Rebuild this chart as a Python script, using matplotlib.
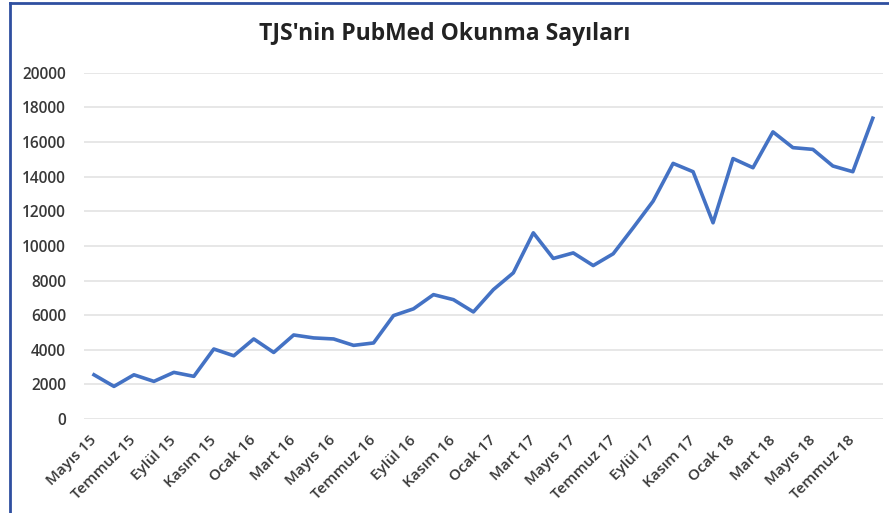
import matplotlib
matplotlib.use('Agg')
import matplotlib.pyplot as plt
from matplotlib.transforms import ScaledTranslation

# Monthly PubMed reads, May 2015 - Aug 2018
months = ["Mayıs 15", "Haziran 15", "Temmuz 15", "Ağustos 15", "Eylül 15", "Ekim 15",
          "Kasım 15", "Aralık 15", "Ocak 16", "Şubat 16", "Mart 16", "Nisan 16",
          "Mayıs 16", "Haziran 16", "Temmuz 16", "Ağustos 16", "Eylül 16", "Ekim 16",
          "Kasım 16", "Aralık 16", "Ocak 17", "Şubat 17", "Mart 17", "Nisan 17",
          "Mayıs 17", "Haziran 17", "Temmuz 17", "Ağustos 17", "Eylül 17", "Ekim 17",
          "Kasım 17", "Aralık 17", "Ocak 18", "Şubat 18", "Mart 18", "Nisan 18",
          "Mayıs 18", "Haziran 18", "Temmuz 18", "Ağustos 18"]
reads = [2560, 1890, 2560, 2180, 2700, 2470, 4050, 3660, 4630, 3850,
         4860, 4690, 4630, 4260, 4400, 5980, 6370, 7190, 6900, 6190,
         7480, 8450, 10760, 9280, 9600, 8870, 9550, 11050, 12590, 14770,
         14290, 11340, 15050, 14520, 16590, 15680, 15580, 14620, 14290, 17380]
yticks = [0, 2000, 4000, 6000, 8000, 10000, 12000, 14000, 16000, 18000, 20000]

FONT = ['Open Sans', 'DejaVu Sans']
TXT = '#383838'

fig = plt.figure(figsize=(8.89, 5.13), dpi=100)
ax = fig.add_axes([0.0945, 0.183, 0.8985, 0.675])

x = list(range(len(reads)))
ax.plot(x, reads, color='#4472C4', linewidth=2.6, solid_joinstyle='round')

ax.set_xlim(-0.5, len(reads) - 0.5)
ax.set_ylim(0, 20000)
ax.set_yticks(yticks)
ax.set_yticklabels([str(v) for v in yticks], fontsize=11.2, color=TXT,
                   family=FONT, fontweight='semibold')
ax.set_xticks(x[::2])
ax.set_xticklabels(months[::2], rotation=45, ha='right', rotation_mode='anchor',
                   fontsize=11, color=TXT, family=FONT, fontweight='semibold')
ax.tick_params(axis='y', length=0, pad=13)
ax.tick_params(axis='x', length=0, pad=10)
# nudge rotated labels a little to the left, like the original
shift = ScaledTranslation(-0.05, 0, fig.dpi_scale_trans)
for lbl in ax.get_xticklabels():
    lbl.set_transform(lbl.get_transform() + shift)
ax.grid(axis='y', color='#e3e3e3', linewidth=1.2)
ax.set_axisbelow(True)
for s in ax.spines.values():
    s.set_visible(False)

fig.text(0.5, 0.933, "TJS'nin PubMed Okunma Sayıları", ha='center', va='center',
         fontsize=16.5, fontweight='bold', color='#222222', family=FONT)

# blue frame, only left and top edges are inside the picture
fig.add_artist(plt.Line2D([0.0115, 0.0115], [0, 0.994], transform=fig.transFigure,
                          color='#2f4fa0', linewidth=2))
fig.add_artist(plt.Line2D([0.0115, 1], [0.994, 0.994], transform=fig.transFigure,
                          color='#2f4fa0', linewidth=2))

fig.savefig('out.png', dpi=100)
